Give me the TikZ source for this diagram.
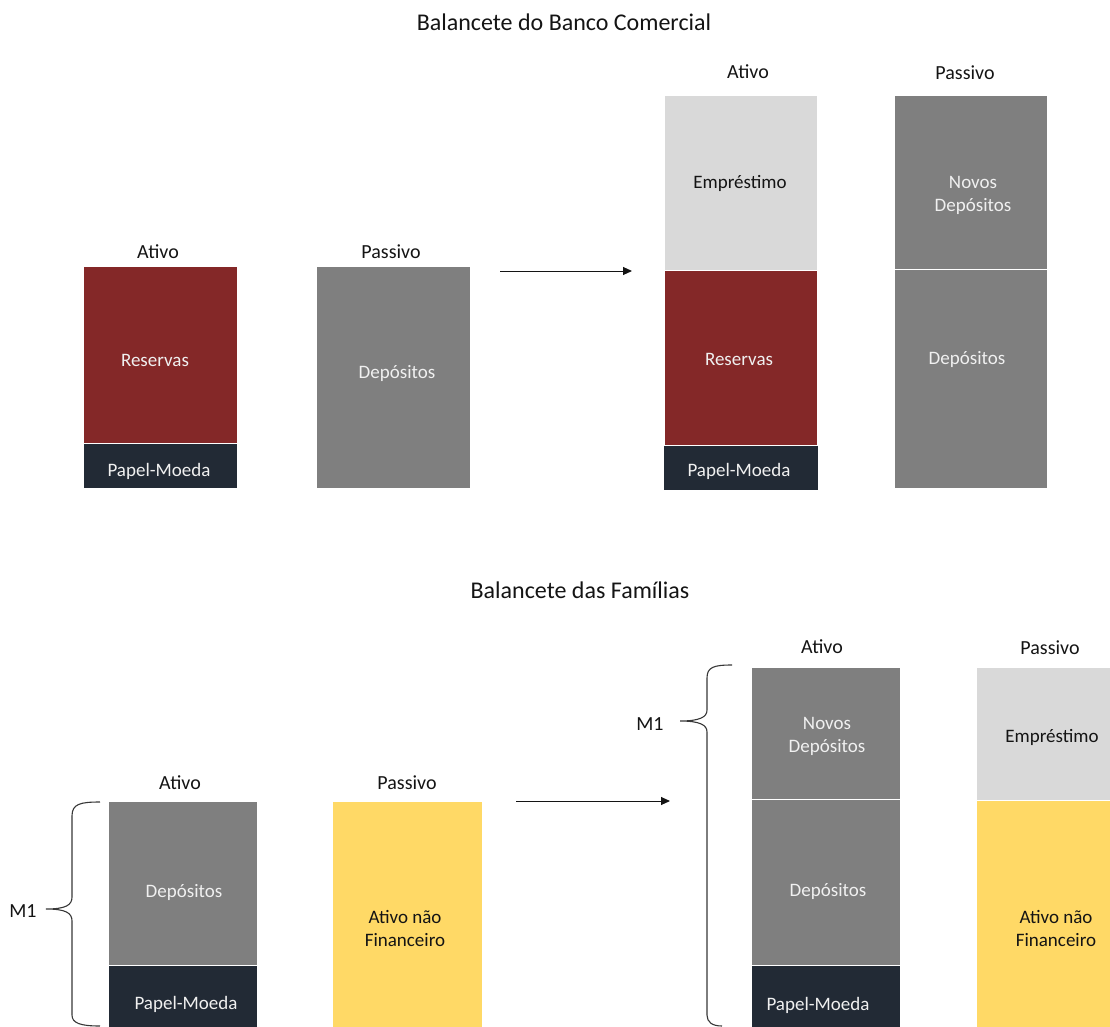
\documentclass[tikz,border=0pt]{standalone}
\usepackage{fontspec}
\setmainfont{Carlito}
\usetikzlibrary{arrows.meta}

\definecolor{reserva}{RGB}{132,40,40}
\definecolor{papel}{RGB}{34,42,53}
\definecolor{cinza}{RGB}{127,127,127}
\definecolor{claro}{RGB}{217,217,217}
\definecolor{amarelo}{RGB}{255,217,102}
\definecolor{branco}{RGB}{240,240,240}
\definecolor{preto}{RGB}{20,20,20}

\begin{document}
\begin{tikzpicture}[
		x=1pt, y=-1pt,
		blk/.style={rectangle, draw=white, line width=0.8pt, anchor=north west, inner sep=0pt},
		txt/.style={draw=none, align=center, font=\fontsize{19}{23}\selectfont},
		wtxt/.style={txt, text=branco},
		btxt/.style={txt, text=preto},
		head/.style={draw=none, text=preto, font=\fontsize{20}{24}\selectfont},
		title/.style={draw=none, text=preto, font=\fontsize{24}{28}\selectfont},
		arr/.style={-{Triangle[length=9pt, width=8pt]}, line width=1pt, preto},
		brace/.style={line width=1.1pt, preto!85}
	]
  \useasboundingbox (0,0) rectangle (1110,1027);

  \node (title_banco) [title] at (564,22) {Balancete do Banco Comercial};

  \node (ativo_1) [head] at (158,252) {Ativo};
  \node (passivo_1) [head] at (391,252) {Passivo};
  \node (res_1) [blk, fill=reserva, minimum width=154pt, minimum height=177pt] at (83,266) {};
  \node (pm_1) [blk, fill=papel, minimum width=154pt, minimum height=45pt] at (83,443) {};
  \node (dep_1) [blk, fill=cinza, minimum width=154pt, minimum height=222pt] at (316,266) {};
  \node (res_1_label) [wtxt] at (155,360) {Reservas};
  \node (pm_1_label) [wtxt] at (159,471) {Papel-Moeda};
  \node (dep_1_label) [wtxt] at (397,373) {Depósitos};

  \coordinate (seta_1_a) at (500,271);
  \coordinate (seta_1_b) at (632,271);
  \draw[arr] (seta_1_a) -- (seta_1_b);

  \node (ativo_2) [head] at (748,72) {Ativo};
  \node (passivo_2) [head] at (965,73) {Passivo};
  \node (emp_2) [blk, fill=claro, minimum width=153pt, minimum height=175pt] at (664,95) {};
  \node (res_2) [blk, fill=reserva, minimum width=153pt, minimum height=175pt] at (664,270) {};
  \node (pm_2) [blk, fill=papel, minimum width=155pt, minimum height=45pt] at (663,445) {};
  \node (nov_2) [blk, fill=cinza, minimum width=153pt, minimum height=174pt] at (894,95) {};
  \node (dep_2) [blk, fill=cinza, minimum width=153pt, minimum height=219pt] at (894,269) {};
  \node (emp_2_label) [btxt] at (740,183) {Empréstimo};
  \node (res_2_label) [wtxt] at (739,359) {Reservas};
  \node (pm_2_label) [wtxt] at (739,471) {Papel-Moeda};
  \node (nov_2_label) [wtxt] at (973,195) {Novos\\Depósitos};
  \node (dep_2_label) [wtxt] at (967,359) {Depósitos};

  \node (title_familias) [title] at (580,590) {Balancete das Famílias};

  \node (ativo_3) [head] at (180,783) {Ativo};
  \node (passivo_3) [head] at (407,783) {Passivo};
  \node (dep_3) [blk, fill=cinza, minimum width=149pt, minimum height=164pt] at (108,801) {};
  \node (pm_3) [blk, fill=papel, minimum width=149pt, minimum height=65pt] at (108,965) {};
  \node (anf_3) [blk, fill=amarelo, minimum width=150pt, minimum height=229pt] at (332,801) {};
  \node (dep_3_label) [wtxt] at (184,892) {Depósitos};
  \node (pm_3_label) [wtxt] at (186,1004) {Papel-Moeda};
  \node (anf_3_label) [btxt] at (405,928) {Ativo não\\Financeiro};

  \node (m1_3) [head] at (23,911) {M1};
  \draw[brace] (100,802) .. controls (80,802) and (72,804) .. (72,816) -- (72,897)
    .. controls (72,905) and (66,909) .. (46,909)
    .. controls (66,909) and (72,913) .. (72,921) -- (72,1015)
    .. controls (72,1023) and (80,1026) .. (100,1026);

  \coordinate (seta_2_a) at (516,801);
  \coordinate (seta_2_b) at (670,801);
  \draw[arr] (seta_2_a) -- (seta_2_b);

  \node (ativo_4) [head] at (822,647) {Ativo};
  \node (passivo_4) [head] at (1050,648) {Passivo};
  \node (nov_4) [blk, fill=cinza, minimum width=149pt, minimum height=132pt] at (751,667) {};
  \node (dep_4) [blk, fill=cinza, minimum width=149pt, minimum height=166pt] at (751,799) {};
  \node (pm_4) [blk, fill=papel, minimum width=149pt, minimum height=65pt] at (751,965) {};
  \node (emp_4) [blk, fill=claro, minimum width=140pt, minimum height=133pt] at (976,667) {};
  \node (anf_4) [blk, fill=amarelo, minimum width=140pt, minimum height=230pt] at (976,800) {};
  \node (nov_4_label) [wtxt] at (827,736) {Novos\\Depósitos};
  \node (dep_4_label) [wtxt] at (828,891) {Depósitos};
  \node (pm_4_label) [wtxt] at (818,1005) {Papel-Moeda};
  \node (emp_4_label) [btxt] at (1052,737) {Empréstimo};
  \node (anf_4_label) [btxt] at (1056,928) {Ativo não\\Financeiro};

  \node (m1_4) [head] at (650,724) {M1};
  \draw[brace] (732,665) .. controls (714,665) and (707,667) .. (707,678) -- (707,710)
    .. controls (707,717) and (700,721) .. (680,721)
    .. controls (700,721) and (707,725) .. (707,732) -- (707,1015)
    .. controls (707,1022) and (712,1026) .. (722,1026);
\end{tikzpicture}
\end{document}
